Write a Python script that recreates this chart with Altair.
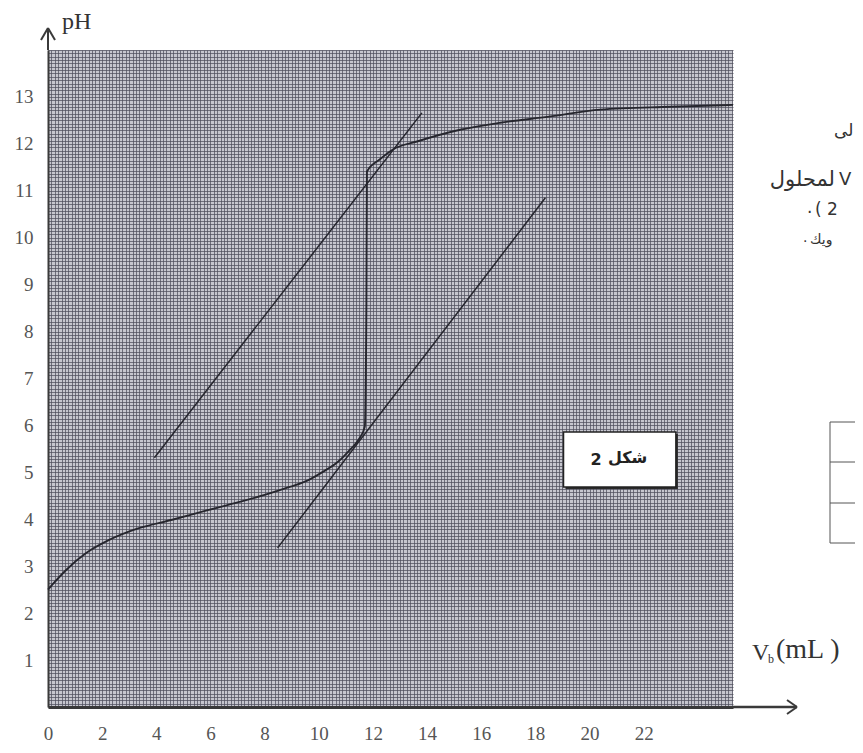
import altair as alt
import pandas as pd
import numpy as np

# ---- data ----
vb = [0, 0.15, 0.67, 1.41, 2.26, 3.3, 4.59, 5.8, 7.07, 8.0, 8.93, 9.6, 10.15, 10.7,
      11.15, 11.5, 11.7, 11.76, 11.78, 12.26, 12.74, 13.63, 15.22, 16.7, 18.5, 20.4, 23.0, 25.3]
ph = [2.5, 2.6, 2.92, 3.28, 3.56, 3.8, 3.99, 4.18, 4.37, 4.52, 4.69, 4.83, 5.01, 5.22,
      5.48, 5.72, 5.97, 8.6, 11.41, 11.67, 11.88, 12.05, 12.3, 12.45, 12.58, 12.73, 12.79, 12.83]

tan_x1 = [3.93, 8.48]
tan_y1 = [5.31, 3.39]
tan_x2 = [13.81, 18.37]
tan_y2 = [12.66, 10.85]

x_ticks = [0, 2, 4, 6, 8, 10, 12, 14, 16, 18, 20, 22]
y_ticks = [1, 2, 3, 4, 5, 6, 7, 8, 9, 10, 11, 12, 13]

box_x = [19.04]
box_x2 = [23.19]
box_y = [5.86]
box_y2 = [4.69]

# graph-paper grid (styling)
x_grid = [round(v, 4) for v in np.arange(0, 25.3 + 1e-9, 0.125)]
y_grid = [round(v, 4) for v in np.arange(0, 14 + 1e-9, 1 / 14)]

W, H = 685, 657
x_scale = alt.Scale(domain=[0, 25.3], nice=False, zero=False)
y_scale = alt.Scale(domain=[0, 14], nice=False, zero=False)

GRID_COLOR = "#4c4c5a"
INK = "#26262e"
SERIF = "Liberation Serif"
ARAB = "DejaVu Sans"

df_curve = pd.DataFrame({"vb": vb, "ph": ph})
df_tan = pd.DataFrame({"x1": tan_x1, "y1": tan_y1, "x2": tan_x2, "y2": tan_y2})
df_box = pd.DataFrame({"x": box_x, "x2": box_x2, "y": box_y, "y2": box_y2})
one = pd.DataFrame({"a": [0]})

curve = alt.Chart(df_curve).mark_line(interpolate="monotone", color=INK, strokeWidth=1.9).encode(
    x=alt.X("vb:Q", scale=x_scale,
            axis=alt.Axis(values=x_grid, grid=True, gridColor=GRID_COLOR, gridWidth=0.9,
                          gridOpacity=0.8, labels=False, ticks=False, domain=False,
                          title=None, orient="bottom")),
    y=alt.Y("ph:Q", scale=y_scale,
            axis=alt.Axis(values=y_grid, grid=True, gridColor=GRID_COLOR, gridWidth=0.9,
                          gridOpacity=0.8, labels=False, ticks=False, domain=False,
                          title=None, orient="left")),
)

tangents = alt.Chart(df_tan).mark_rule(color=INK, strokeWidth=1.5).encode(
    x=alt.X("x1:Q", scale=x_scale,
            axis=alt.Axis(values=x_ticks, grid=False, ticks=False, domain=True,
                          domainColor="#3a3a3a", domainWidth=3, labelFont=SERIF,
                          labelFontSize=19, labelColor="#555555", labelPadding=17,
                          labelFlush=False, title=None, orient="bottom")),
    y=alt.Y("y1:Q", scale=y_scale,
            axis=alt.Axis(values=y_ticks, grid=False, ticks=False, domain=True,
                          domainColor="#3a3a3a", domainWidth=2, labelFont=SERIF,
                          labelFontSize=19, labelColor="#555555", labelPadding=15,
                          labelFlush=False, title=None, orient="left")),
    x2="x2:Q",
    y2="y2:Q",
)

box_shadow = alt.Chart(df_box).mark_rect(fill="#2a2a2a", xOffset=2, x2Offset=2,
                                         yOffset=2, y2Offset=2).encode(
    x=alt.X("x:Q", scale=x_scale, axis=None),
    x2="x2:Q",
    y=alt.Y("y:Q", scale=y_scale, axis=None),
    y2="y2:Q",
)
box = alt.Chart(df_box).mark_rect(fill="white", stroke="#222222", strokeWidth=1.5).encode(
    x=alt.X("x:Q", scale=x_scale, axis=None),
    x2="x2:Q",
    y=alt.Y("y:Q", scale=y_scale, axis=None),
    y2="y2:Q",
)


def seg(x1, y1, x2, y2, w=1.8, c="#3a3a3a"):
    return alt.Chart(one).mark_rule(color=c, strokeWidth=w).encode(
        x=alt.value(x1), y=alt.value(y1), x2=alt.value(x2), y2=alt.value(y2))


def txt(s, x, y, size, font=SERIF, align="left", baseline="middle", color="#333333", weight="normal"):
    return alt.Chart(one).mark_text(text=s, font=font, fontSize=size, align=align,
                                    baseline=baseline, color=color, fontWeight=weight).encode(
        x=alt.value(x), y=alt.value(y))


decor = [
    # y arrow
    seg(0, -22, 0, 0, 2),
    seg(-7, -10, 0, -22, 2),
    seg(7, -10, 0, -22, 2),
    # x arrow
    seg(W, H, W + 64, H, 2.5),
    seg(W + 54, H - 7, W + 64, H, 2),
    seg(W + 54, H + 7, W + 64, H, 2),
    # partial table on the right
    seg(782, 372, 830, 372, 1, "#555555"),
    seg(782, 412, 830, 412, 1, "#555555"),
    seg(782, 453, 830, 453, 1, "#555555"),
    seg(782, 493, 830, 493, 1, "#555555"),
    seg(782, 372, 782, 493, 1, "#555555"),
    # box label "شكل 2" (number on the left, word on the right)
    txt("2", 548, 410, 16, font=ARAB, align="center", color="#222222", weight="bold"),
    txt("شكل", 560, 408, 16, font=ARAB, align="left", color="#222222", weight="bold"),
    # axis titles
    txt("pH", 14, -28, 24),
    txt("V", 704, 610, 24, baseline="alphabetic"),
    txt("b", 720, 613, 12, baseline="alphabetic"),
    txt("(mL  )", 728, 608, 28, baseline="alphabetic"),
    # cut-off Arabic text on the right (right-to-left lines, their ends visible)
    txt("لى", 786, 81, 17, font=ARAB),
    txt("لمحلول", 787, 130, 21, font=ARAB, align="right"),
    txt("V", 791, 130, 18, font=ARAB),
    txt(".", 759, 158, 17, font=ARAB),
    txt("(", 767, 160, 17, font=ARAB),
    txt("2", 779, 160, 17, font=ARAB),
    txt(".", 755, 188, 14, font=ARAB),
    txt("ويك", 762, 190, 14, font=ARAB),
]

chart = alt.layer(curve, tangents, box_shadow, box, *decor).resolve_axis(
    x="independent", y="independent"
).properties(
    width=W,
    height=H,
    autosize=alt.AutoSizeParams(type="none"),
    padding={"left": 40, "top": 42, "right": 122, "bottom": 36},
    background="white",
).configure_view(fill="#c6c6ce", stroke=None)

chart.save("out.html", embed_options={"renderer": "svg", "actions": False})
